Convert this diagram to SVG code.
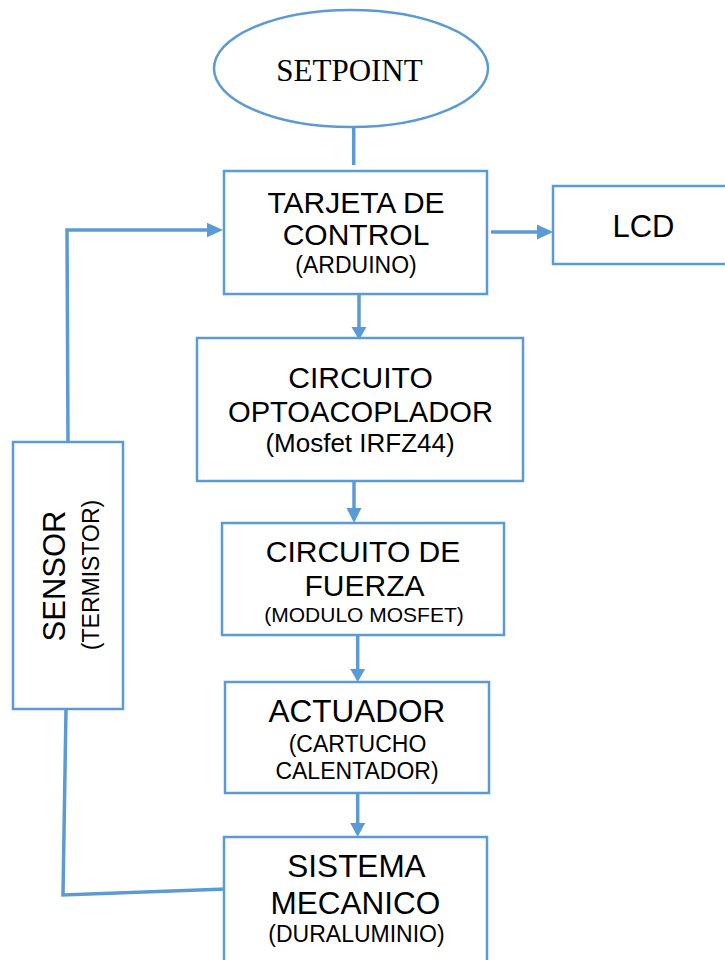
<svg xmlns="http://www.w3.org/2000/svg" width="725" height="960" viewBox="0 0 725 960">
<defs>
<style>
.box{fill:#fff;stroke:#5B9BD5;stroke-width:2.5}
.ln{fill:none;stroke:#5B9BD5;stroke-width:3.5}
.ah{fill:#5B9BD5}
text{font-family:"Liberation Sans",Arial,sans-serif;fill:#000;text-anchor:middle}
.big{font-size:30px}
.sm{font-size:23px}
.serif{font-family:"Liberation Serif","Times New Roman",serif;font-size:31px}
</style>
</defs>
<rect width="725" height="960" fill="#fff"/>
<g id="connectors">
<line class="ln" x1="353.7" y1="127" x2="353.7" y2="165"/>
<line class="ln" x1="491" y1="232" x2="538" y2="232"/>
<polygon class="ah" points="537,224.5 553,232 537,239.5"/>
<line class="ln" x1="359" y1="294" x2="359" y2="328"/>
<polygon class="ah" points="351.5,327 359,340 366.5,327"/>
<line class="ln" x1="354" y1="477" x2="354" y2="509"/>
<polygon class="ah" points="346.5,508 354,523 361.5,508"/>
<line class="ln" x1="357.7" y1="635" x2="357.7" y2="670"/>
<polygon class="ah" points="350.2,669 357.7,682 365.2,669"/>
<line class="ln" x1="357.7" y1="793" x2="357.7" y2="824"/>
<polygon class="ah" points="350.2,823 357.7,837 365.2,823"/>
<polyline class="ln" points="68,442 67,230 208,230"/>
<polygon class="ah" points="207,222.7 223,230 207,237.3"/>
<polyline class="ln" points="66,709 63,895 226,889"/>
</g>
<g id="setpoint">
<ellipse class="box" cx="351" cy="68.5" rx="137" ry="58.5"/>
<text class="serif" x="349.5" y="81">SETPOINT</text>
</g>
<g id="tarjeta">
<rect class="box" x="224" y="171" width="263" height="123"/>
<text class="big" x="356" y="213" font-size="29">TARJETA DE</text>
<text class="big" x="356" y="245" font-size="29">CONTROL</text>
<text class="sm" x="356" y="273">(ARDUINO)</text>
</g>
<g id="lcd">
<rect class="box" x="553" y="186" width="180" height="78"/>
<text x="643.5" y="237" font-size="31">LCD</text>
</g>
<g id="opto">
<rect class="box" x="197" y="338" width="326" height="143"/>
<text class="big" x="360.5" y="388">CIRCUITO</text>
<text class="big" x="360.5" y="422" textLength="265" lengthAdjust="spacingAndGlyphs">OPTOACOPLADOR</text>
<text x="360" y="452" font-size="26">(Mosfet IRFZ44)</text>
</g>
<g id="fuerza">
<rect class="box" x="222" y="523" width="282" height="112"/>
<text class="big" x="363" y="562" font-size="29">CIRCUITO DE</text>
<text class="big" x="364.5" y="596" font-size="29">FUERZA</text>
<text x="364" y="622" font-size="21">(MODULO MOSFET)</text>
</g>
<g id="actuador">
<rect class="box" x="225" y="682" width="264" height="111"/>
<text x="357" y="722" font-size="31.5">ACTUADOR</text>
<text class="sm" x="357.5" y="752">(CARTUCHO</text>
<text class="sm" x="357" y="779">CALENTADOR)</text>
</g>
<g id="sistema">
<rect class="box" x="224" y="837" width="263" height="140"/>
<text x="356.5" y="877" font-size="31.5">SISTEMA</text>
<text x="355.5" y="914" font-size="31.5">MECANICO</text>
<text class="sm" x="356.5" y="942">(DURALUMINIO)</text>
</g>
<g id="sensor">
<rect class="box" x="13" y="442" width="110" height="267"/>
<text x="0" y="0" font-size="31" transform="translate(65,576) rotate(-90)">SENSOR</text>
<text class="sm" x="0" y="0" transform="translate(99,575) rotate(-90)">(TERMISTOR)</text>
</g>
</svg>
